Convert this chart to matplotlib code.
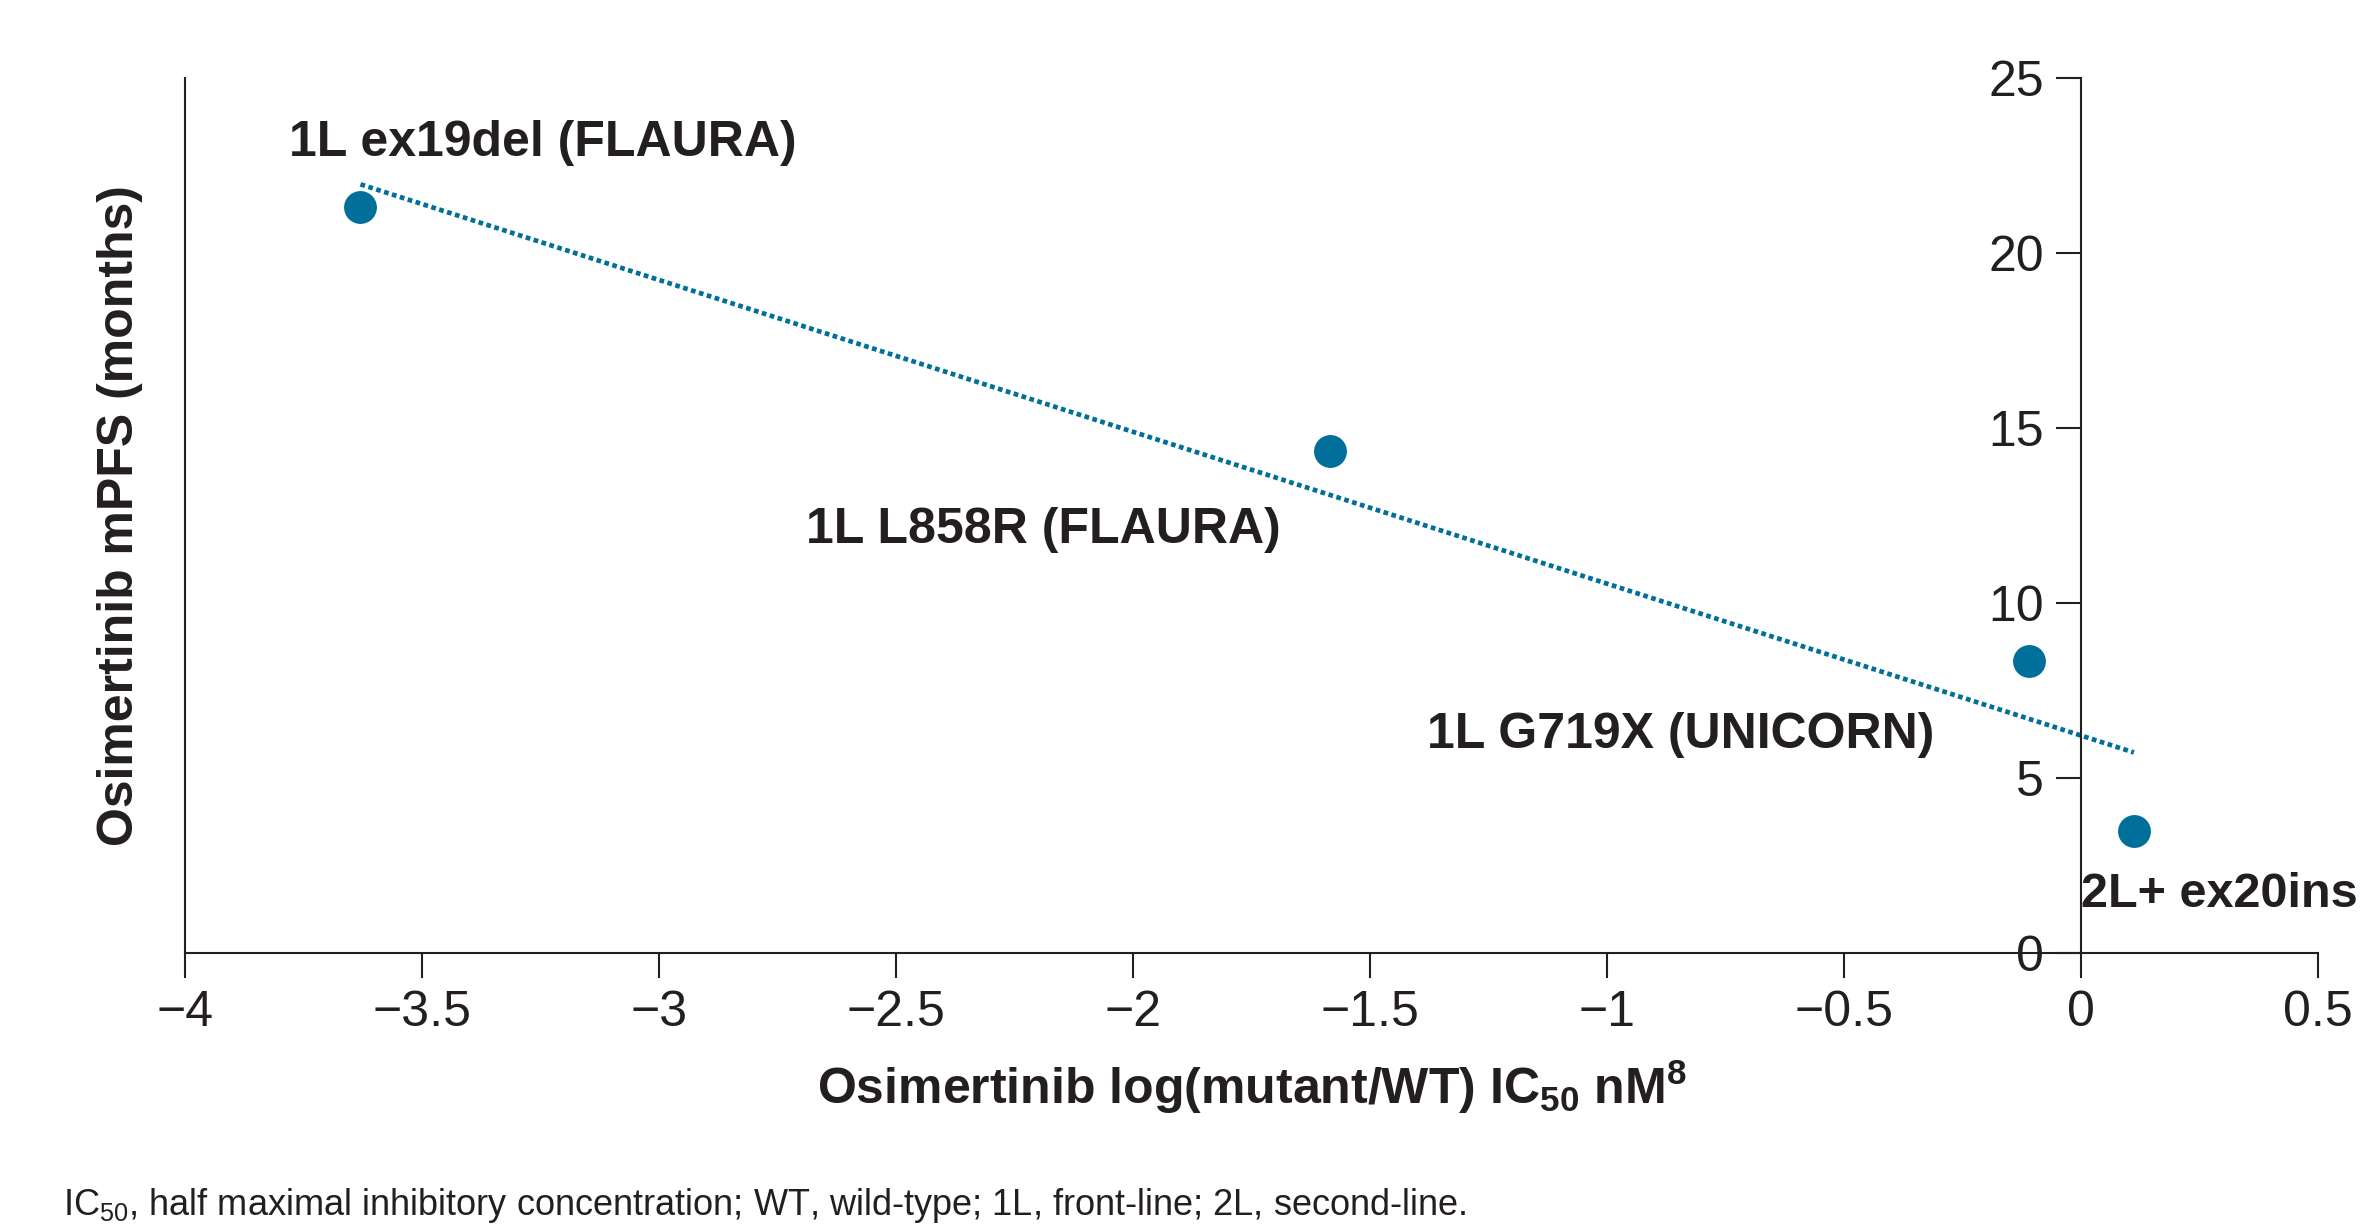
import numpy as np
import matplotlib
matplotlib.use("Agg")
import matplotlib.pyplot as plt

# Data
labels = ["1L ex19del (FLAURA)", "1L L858R (FLAURA)", "1L G719X (UNICORN)", "2L+ ex20ins"]
log_ic50 = [-3.63, -1.585, -0.111, 0.111]
mpfs_months = [21.3, 14.33, 8.35, 3.49]

x_ticks = [-4, -3.5, -3, -2.5, -2, -1.5, -1, -0.5, 0, 0.5]
y_ticks = [0, 5, 10, 15, 20, 25]

# Where each label sits (data coords, left edge / vertical centre) and its size
label_pos = [(-3.78, 23.15), (-2.69, 12.09), (-1.38, 6.24), (0.0, 1.68)]
label_size = [36, 36, 36, 35]

color = "#00709a"

plt.rcParams['font.family'] = ['Liberation Sans', 'DejaVu Sans']
plt.rcParams['mathtext.fontset'] = 'custom'
plt.rcParams['mathtext.rm'] = 'Liberation Sans'
plt.rcParams['mathtext.bf'] = 'Liberation Sans:bold'
plt.rcParams['text.color'] = '#231f20'

fig = plt.figure(figsize=(23.61, 12.32), dpi=100)
ax = fig.add_axes([0.0784, 0.2265, 0.9035, 0.7102])

# Scatter points
ax.scatter(log_ic50, mpfs_months, s=560, color=color, zorder=3, linewidths=0)

# Linear fit over all points, drawn between the outermost x values
slope, intercept = np.polyfit(log_ic50, mpfs_months, 1)
fit_x = np.array([min(log_ic50), max(log_ic50)])
ax.plot(fit_x, slope * fit_x + intercept, color=color, lw=3.4,
        dashes=(1.0, 0.75), zorder=2)

for text, (tx, ty), fs in zip(labels, label_pos, label_size):
    ax.text(tx, ty, text, fontsize=fs, fontweight='bold', ha='left', va='center',
            clip_on=False)

ax.set_xlim(-4, 0.5)
ax.set_ylim(0, 25)

# y axis drawn at x=0, plain frame line at x=-4
ax.spines['left'].set_position(('data', 0))
ax.spines['right'].set_position(('data', -4))
ax.spines['top'].set_visible(False)
for side in ['left', 'right', 'bottom']:
    ax.spines[side].set_linewidth(1.5)
    ax.spines[side].set_color('#231f20')

ax.set_xticks(x_ticks)
ax.set_xticklabels([f"{v:g}".replace('-', '\u2212') for v in x_ticks])
ax.set_yticks(y_ticks)
ax.yaxis.set_ticks_position('left')
ax.tick_params(axis='both', direction='out', length=18, width=1.5, pad=9,
               labelsize=36, color='#231f20', labelcolor='#231f20')

ax.text(0.5, -0.153, r'Osimertinib log(mutant/WT) IC$_{\mathbf{50}}$ nM$^{\mathbf{8}}$',
        transform=ax.transAxes, ha='center', va='center', fontsize=36,
        fontweight='bold')
ax.text(-0.0306, 0.5, 'Osimertinib mPFS (months)', transform=ax.transAxes,
        rotation=90, ha='center', va='center', fontsize=36, fontweight='bold')

fig.text(0.0267, 0.014,
         r'IC$_{50}$, half maximal inhibitory concentration; WT, wild-type; 1L, front-line; 2L, second-line.',
         ha='left', va='baseline', fontsize=26)

fig.savefig("out.png", dpi=100)
